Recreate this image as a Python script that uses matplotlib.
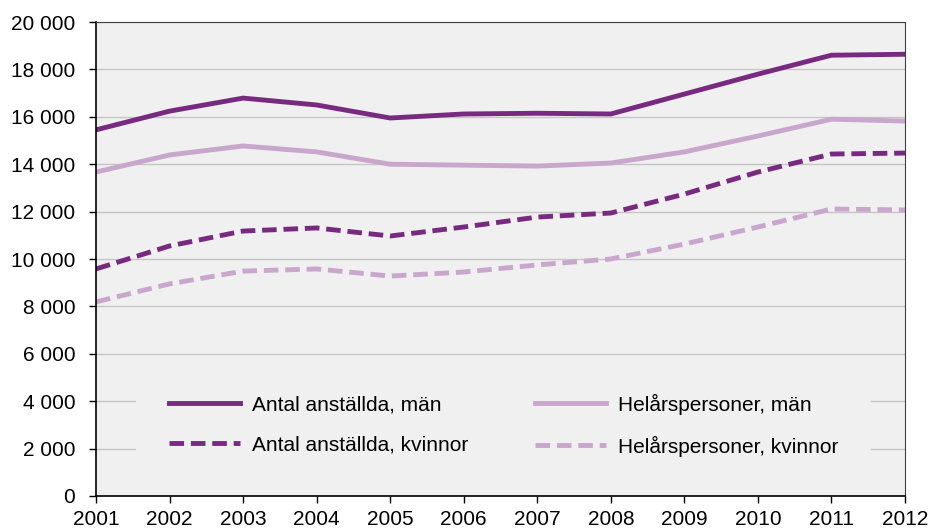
import matplotlib.pyplot as plt
from matplotlib.ticker import FuncFormatter

years = list(range(2001, 2013))
antal_man = [15450, 16240, 16790, 16500, 15950, 16120, 16150, 16120, 16960, 17800, 18600, 18640]
helar_man = [13670, 14390, 14770, 14520, 14000, 13960, 13920, 14050, 14520, 15190, 15900, 15820]
antal_kvinnor = [9580, 10550, 11180, 11310, 10970, 11350, 11770, 11940, 12740, 13670, 14430, 14470]
helar_kvinnor = [8190, 8950, 9490, 9580, 9280, 9450, 9750, 10000, 10630, 11350, 12110, 12070]

dark = '#772a80'
light = '#c9a7cc'

plt.rcParams['font.family'] = ['Liberation Sans', 'DejaVu Sans']

fig = plt.figure(figsize=(9.35, 5.32), dpi=100)
ax = fig.add_axes([0.1027, 0.0677, 0.8652, 0.8909])
ax.set_facecolor('#f0f0f0')

lw = 3.5
dash = (0, (3.0, 1.4))
l1, = ax.plot(years, antal_man, color=dark, lw=lw, label='Antal anställda, män')
l2, = ax.plot(years, antal_kvinnor, color=dark, lw=lw, ls=dash,
              label='Antal anställda, kvinnor')
l3, = ax.plot(years, helar_man, color=light, lw=lw, label='Helårspersoner, män')
l4, = ax.plot(years, helar_kvinnor, color=light, lw=lw, ls=dash,
              label='Helårspersoner, kvinnor')

ax.set_xlim(2001, 2012)
ax.set_ylim(0, 20000)
ax.set_xticks(years)
ax.set_yticks(range(0, 20001, 2000))
ax.yaxis.set_major_formatter(FuncFormatter(lambda v, p: f'{int(v):,}'.replace(',', ' ')))
ax.grid(axis='y', color='#c6c6c6', lw=1)
ax.set_axisbelow(True)
ax.tick_params(labelsize=15, length=5, width=1, direction='out')
ax.tick_params(axis='y', pad=10)
ax.tick_params(axis='x', pad=5)

for s in ['left', 'bottom']:
    ax.spines[s].set_color('black')
    ax.spines[s].set_linewidth(1.2)
for s in ['top', 'right']:
    ax.spines[s].set_color('#404040')
    ax.spines[s].set_linewidth(0.8)

leg = ax.legend(handles=[l1, l2, l3, l4], ncol=2, loc='lower left',
                bbox_to_anchor=(0.049, 0.0127), borderaxespad=0, fontsize=15,
                frameon=True, facecolor='#f0f0f0', edgecolor='none', framealpha=1,
                handlelength=3.4, handletextpad=0.58, columnspacing=3.2,
                labelspacing=1.0, borderpad=1.6, fancybox=False)

fig.savefig('out.png', dpi=100)
